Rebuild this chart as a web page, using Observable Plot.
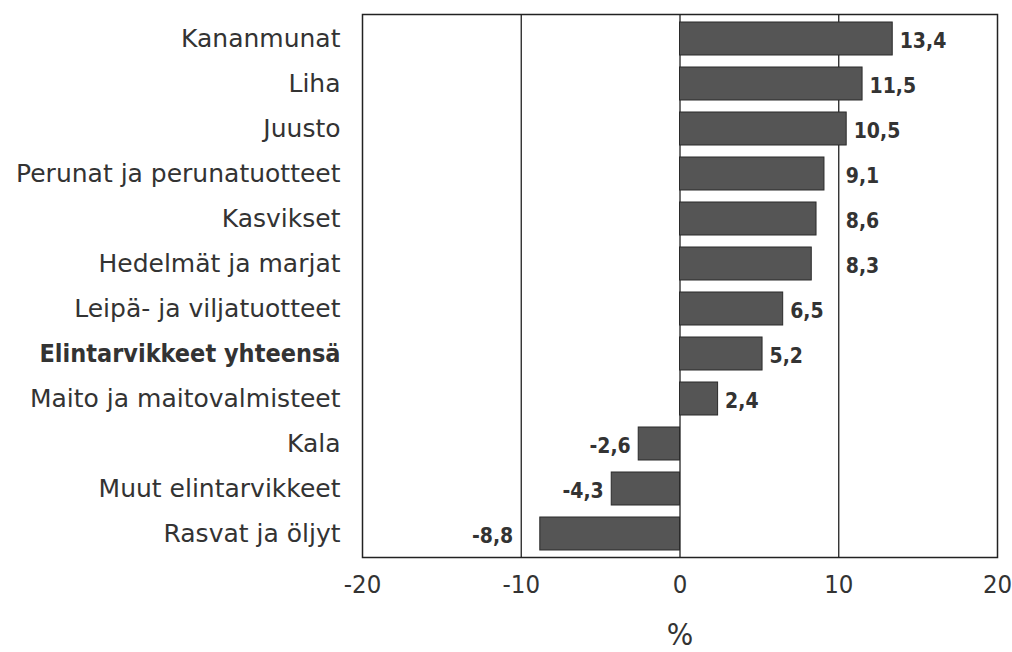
<!DOCTYPE html>
<html><head><meta charset="utf-8">
<script src="https://cdn.jsdelivr.net/npm/d3@7"></script>
<script src="https://cdn.jsdelivr.net/npm/@observablehq/plot@0.6"></script>
<style>
html,body{margin:0;padding:0;background:#fff;}
#chart svg{display:block;}
</style>
</head><body><div id="chart"></div>
<script>
const categories = ["Kananmunat","Liha","Juusto","Perunat ja perunatuotteet","Kasvikset","Hedelmät ja marjat","Leipä- ja viljatuotteet","Elintarvikkeet yhteensä","Maito ja maitovalmisteet","Kala","Muut elintarvikkeet","Rasvat ja öljyt"];
const values = [13.4, 11.5, 10.5, 9.1, 8.6, 8.3, 6.5, 5.2, 2.4, -2.6, -4.3, -8.8];
const totalCategory = "Elintarvikkeet yhteensä";
const xTicks = [-20, -10, 0, 10, 20];
const gridValues = [-10, 0, 10];
const xLabel = "%";

const data = categories.map((c, i) => ({category: c, value: values[i]}));
const fmt = v => v.toFixed(1).replace(".", ",");
// keep value labels clear of the vertical grid lines
function labelX(d) {
  const v = d.value;
  const g = gridValues.find(t => t !== 0 && Math.sign(t) === Math.sign(v) && Math.abs(v) < Math.abs(t) && Math.abs(t) - Math.abs(v) < 2);
  return g !== undefined ? g : v;
}

const cond = "'DejaVu Sans Condensed', 'DejaVu Sans', sans-serif";

const plot = Plot.plot({
  width: 1012, height: 652,
  marginLeft: 362, marginRight: 15, marginTop: 14, marginBottom: 95,
  x: {domain: [-20, 20]},
  y: {domain: categories, paddingInner: 0.27, paddingOuter: 0.135},
  style: {fontFamily: "'DejaVu Sans', sans-serif", color: "#333", background: "#fff"},
  marks: [
    Plot.ruleX(gridValues, {stroke: "#222", strokeWidth: 1.3}),
    Plot.barX(data, {x: "value", y: "category", fill: "#555", stroke: "#2a2a2a", strokeWidth: 1}),
    Plot.text(data.filter(d => d.value >= 0), {x: labelX, y: "category", text: d => fmt(d.value), textAnchor: "start", dx: 7, dy: 2, fontFamily: cond, fontWeight: "bold", fontSize: 21, fill: "#333"}),
    Plot.text(data.filter(d => d.value < 0), {x: labelX, y: "category", text: d => fmt(d.value), textAnchor: "end", dx: -8, dy: 2, fontFamily: cond, fontWeight: "bold", fontSize: 21, fill: "#333"}),
    Plot.axisY({tickSize: 0, tickPadding: 22, fontSize: 25, label: null, fill: "#333"}),
    Plot.axisX({ticks: xTicks, tickFormat: d => String(d), tickSize: 0, tickPadding: 17, fontSize: 25.5, fontFamily: cond, fill: "#333",
      label: xLabel, labelAnchor: "center", labelArrow: "none", labelOffset: 87}),
    Plot.frame({stroke: "#222", strokeWidth: 1.5})
  ]
});

d3.select(plot).selectAll('g[aria-label="y-axis tick label"] text')
  .filter(function() { return this.textContent === totalCategory; })
  .attr("font-weight", "bold")
  .attr("font-family", cond);

d3.select(plot).selectAll('g[aria-label="x-axis label"] text')
  .attr("font-size", 31);

document.getElementById("chart").appendChild(plot);
</script>
</body></html>
